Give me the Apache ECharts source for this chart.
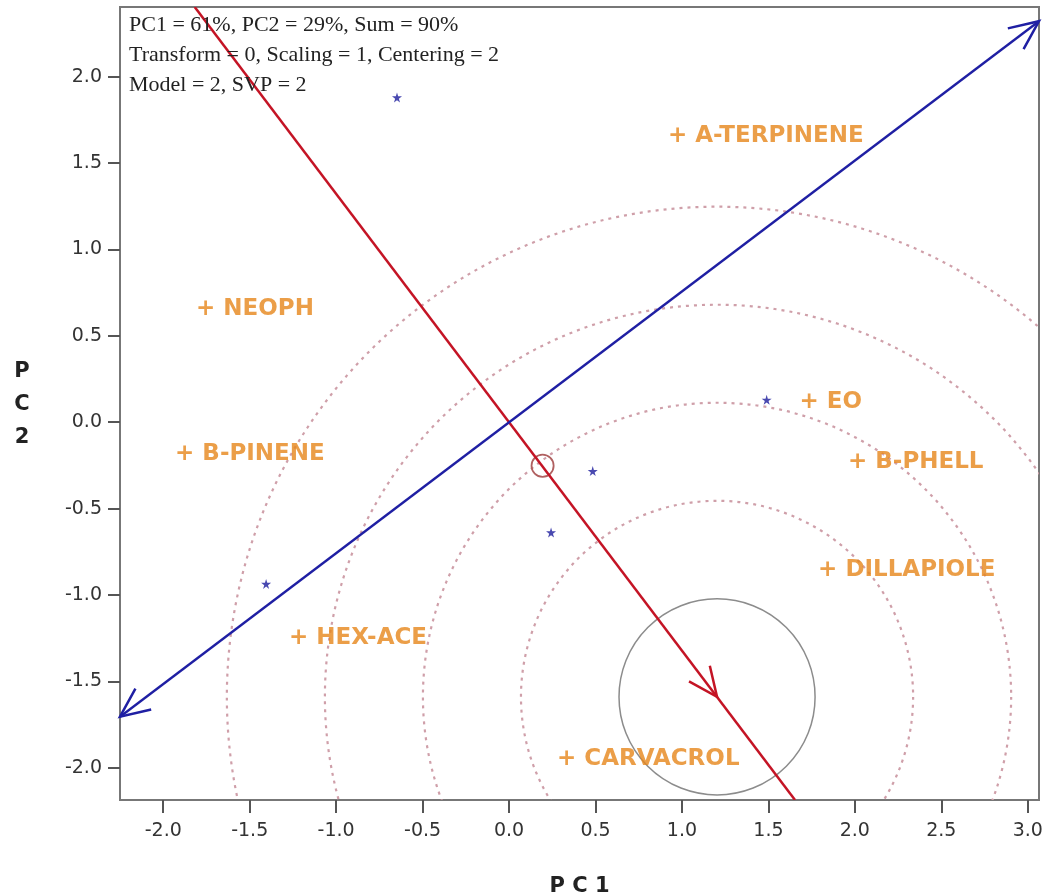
<!DOCTYPE html>
<html>
<head>
<meta charset="utf-8">
<script src="https://cdn.jsdelivr.net/npm/echarts@6/dist/echarts.min.js"></script>
<style>
  html, body { margin: 0; padding: 0; background: #fff; }
  #main { width: 1046px; height: 896px; }
</style>
</head>
<body>
<div id="main"></div>
<script>
// axis ranges and tick values
var xRange = [-2.25, 3.065];
var yRange = [-2.187, 2.404];
var xTicks = [-2.0, -1.5, -1.0, -0.5, 0.0, 0.5, 1.0, 1.5, 2.0, 2.5, 3.0];
var yTicks = [-2.0, -1.5, -1.0, -0.5, 0.0, 0.5, 1.0, 1.5, 2.0];

// sample scores (blue stars)
var sampleScores = [
    [-0.648, 1.880],
    [1.490, 0.130],
    [0.484, -0.283],
    [0.243, -0.638],
    [-1.405, -0.936]
];

// variable loadings (orange labels)
var varNames = ['A-TERPINENE', 'NEOPH', 'EO', 'B-PINENE', 'B-PHELL', 'DILLAPIOLE', 'HEX-ACE', 'CARVACROL'];
var varX = [0.960, -1.770, 1.720, -1.891, 2.001, 1.828, -1.232, 0.318];
var varY = [1.659, 0.658, 0.116, -0.182, -0.229, -0.855, -1.249, -1.950];

// biplot axes: [x1, y1, x2, y2]
var axisLines = [
    [-1.818, 2.404, 1.654, -2.187, 'red'],
    [-2.25, -1.705, 3.065, 2.322, 'blue']
];
// arrow heads: [tipX, tipY, fromX, fromY]
var arrowHeads = [
    [1.203, -1.590, 0, 0, 'red'],
    [3.065, 2.322, 0, 0, 'blue'],
    [-2.25, -1.705, 0, 0, 'blue']
];

// circles: [cx, cy, r, kind]
var circles = [
    [1.203, -1.590, 0.567, 'solid'],
    [1.203, -1.590, 1.134, 'dash'],
    [1.203, -1.590, 1.701, 'dash'],
    [1.203, -1.590, 2.268, 'dash'],
    [1.203, -1.590, 2.835, 'dash'],
    [0.194, -0.252, 0.064, 'small']
];

var annotation = 'PC1 = 61%, PC2 = 29%, Sum = 90%\nTransform = 0, Scaling = 1, Centering = 2\nModel = 2, SVP = 2';

var lineColors = { red: '#c41425', blue: '#1f1fa3' };
var starPath = 'path://M50,0 L61,35 L98,35 L68,57 L79,91 L50,70 L21,91 L32,57 L2,35 L39,35 Z';

var labelData = varNames.map(function (n, i) { return { name: n, value: [varX[i], varY[i]] }; });

var option = {
    animation: false,
    backgroundColor: '#fff',
    title: {
        text: annotation,
        left: 124,
        top: 5,
        textStyle: {
            fontFamily: 'Liberation Serif',
            fontWeight: 'normal',
            fontSize: 22,
            lineHeight: 30,
            color: '#222'
        }
    },
    graphic: [{
        type: 'text',
        x: 22,
        y: 405,
        style: {
            text: 'P\nC\n2',
            align: 'center',
            verticalAlign: 'middle',
            fontFamily: 'DejaVu Sans',
            fontWeight: 'bold',
            fontSize: 21,
            lineHeight: 33,
            fill: '#222'
        }
    }],
    grid: {
        left: 120, right: 7, top: 7, bottom: 96,
        outerBoundsMode: 'none',
        containLabel: false,
        show: true,
        borderColor: '#777',
        borderWidth: 2
    },
    xAxis: {
        type: 'value',
        min: xRange[0], max: xRange[1],
        name: 'P C 1',
        nameLocation: 'middle',
        nameGap: 76,
        nameTextStyle: { fontFamily: 'DejaVu Sans', fontWeight: 'bold', fontSize: 21, color: '#222' },
        splitLine: { show: false },
        axisLine: { onZero: false, lineStyle: { color: '#777', width: 2 } },
        axisTick: { customValues: xTicks, length: 13, lineStyle: { color: '#555', width: 2 } },
        axisLabel: {
            customValues: xTicks,
            margin: 22,
            fontFamily: 'DejaVu Sans', fontSize: 19, color: '#333',
            formatter: function (v) { return v.toFixed(1); }
        }
    },
    yAxis: {
        type: 'value',
        min: yRange[0], max: yRange[1],
        splitLine: { show: false },
        axisLine: { onZero: false, lineStyle: { color: '#777', width: 2 } },
        axisTick: { customValues: yTicks, length: 12, lineStyle: { color: '#555', width: 2 } },
        axisLabel: {
            customValues: yTicks,
            margin: 18,
            fontFamily: 'DejaVu Sans', fontSize: 19, color: '#333',
            formatter: function (v) { return v.toFixed(1); }
        }
    },
    series: [
        {
            // concentric circles
            type: 'custom',
            clip: true,
            data: circles,
            renderItem: function (params, api) {
                var c = api.coord([api.value(0), api.value(1)]);
                var r = api.size([api.value(2), api.value(2)])[0];
                var kind = circles[params.dataIndex][3];
                var style = { fill: 'none', stroke: '#8c8c8c', lineWidth: 1.5 };
                if (kind === 'dash') style = { fill: 'none', stroke: '#cf9fa9', lineWidth: 2.2, lineDash: [3, 5] };
                if (kind === 'small') style = { fill: 'none', stroke: '#b06060', lineWidth: 1.8 };
                return { type: 'circle', shape: { cx: c[0], cy: c[1], r: r }, style: style };
            },
            z: 1
        },
        {
            // biplot lines
            type: 'custom',
            clip: true,
            data: axisLines,
            renderItem: function (params, api) {
                var p1 = api.coord([api.value(0), api.value(1)]);
                var p2 = api.coord([api.value(2), api.value(3)]);
                var col = lineColors[axisLines[params.dataIndex][4]];
                return {
                    type: 'line',
                    shape: { x1: p1[0], y1: p1[1], x2: p2[0], y2: p2[1] },
                    style: { stroke: col, lineWidth: 2.5 }
                };
            },
            z: 3
        },
        {
            // open arrow heads
            type: 'custom',
            data: arrowHeads,
            renderItem: function (params, api) {
                var tip = api.coord([api.value(0), api.value(1)]);
                var from = api.coord([api.value(2), api.value(3)]);
                var ang = Math.atan2(from[1] - tip[1], from[0] - tip[0]);
                var len = 32, spread = 0.42;
                var a1 = [tip[0] + len * Math.cos(ang + spread), tip[1] + len * Math.sin(ang + spread)];
                var a2 = [tip[0] + len * Math.cos(ang - spread), tip[1] + len * Math.sin(ang - spread)];
                var col = lineColors[arrowHeads[params.dataIndex][4]];
                return {
                    type: 'polyline',
                    shape: { points: [a1, tip, a2] },
                    style: { stroke: col, lineWidth: 2.5, fill: 'none' }
                };
            },
            z: 4
        },
        {
            name: 'samples',
            type: 'scatter',
            symbol: starPath,
            symbolSize: 10,
            itemStyle: { color: '#1c1c9c' },
            data: sampleScores,
            z: 5
        },
        {
            name: 'variables',
            type: 'scatter',
            symbol: 'circle',
            symbolSize: 1,
            itemStyle: { color: 'rgba(0,0,0,0)' },
            label: {
                show: true,
                position: 'inside',
                align: 'left',
                offset: [-7, 0],
                formatter: function (p) { return '+ ' + p.name; },
                fontFamily: 'DejaVu Sans',
                fontWeight: 'bold',
                fontSize: 23,
                color: '#e6861a'
            },
            data: labelData,
            z: 6
        }
    ]
};

var myChart = echarts.init(document.getElementById('main'));
myChart.setOption(option);
</script>
</body>
</html>
